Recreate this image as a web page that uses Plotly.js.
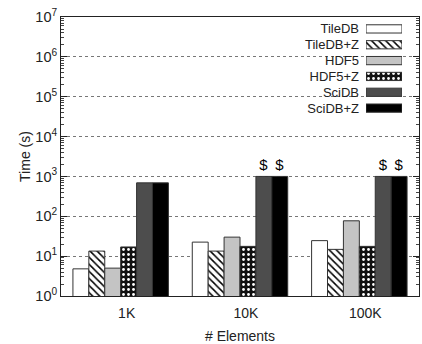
<!DOCTYPE html>
<html><head><meta charset="utf-8">
<script src="https://cdn.plot.ly/plotly-3.0.1.min.js"></script>
<style>html,body{margin:0;padding:0;background:#fff;}#c{width:422px;height:344px;}</style>
</head><body><div id="c"></div>
<script>
var categories = ['1K', '10K', '100K'];
var seriesNames = ['TileDB', 'TileDB+Z', 'HDF5', 'HDF5+Z', 'SciDB', 'SciDB+Z'];
var tiledb   = [4.8, 22.5, 24.5];
var tiledbZ  = [13.4, 13.4, 14.8];
var hdf5     = [5.0, 30, 77];
var hdf5Z    = [17, 17.6, 17.6];
var scidb    = [690, 1000, 1000];
var scidbZ   = [690, 1000, 1000];
var timeoutMarks = [null, '$', '$'];
var yTickVals = [1, 10, 100, 1e3, 1e4, 1e5, 1e6, 1e7];
var yTickText = ['10<sup>0</sup>', '10<sup>1</sup>', '10<sup>2</sup>', '10<sup>3</sup>',
                 '10<sup>4</sup>', '10<sup>5</sup>', '10<sup>6</sup>', '10<sup>7</sup>'];
var legendSwatch = [1];

var values = [tiledb, tiledbZ, hdf5, hdf5Z, scidb, scidbZ];
var styles = [
  {color:'#ffffff'},
  {color:'#ffffff', pattern:{shape:'\\', fgcolor:'#000', bgcolor:'#fff', size:5, solidity:0.3, fillmode:'replace'}},
  {color:'#c4c4c4'},
  {color:'#000000', pattern:{shape:'.', fgcolor:'#fff', bgcolor:'#111', size:5, solidity:0.25, fillmode:'replace'}},
  {color:'#4d4d4d'},
  {color:'#000000'}
];
var FONT = 'Liberation Sans, Arial, sans-serif';
var traces = [];
seriesNames.forEach(function(n, i){
  var m = Object.assign({line:{color:'#333', width:1}}, styles[i]);
  var t = {type:'bar', name:n, x:categories, y:values[i], marker:m, showlegend:false, hoverinfo:'x+y+name'};
  if (i >= 4) {
    t.text = timeoutMarks; t.textposition = 'outside'; t.cliponaxis = false;
    t.textfont = {family:FONT, size:15, color:'#000'};
  }
  traces.push(t);
});
// legend swatches drawn as a small horizontal-bar subplot
seriesNames.forEach(function(n, i){
  var m = Object.assign({line:{color:'#333', width:1}}, JSON.parse(JSON.stringify(styles[i])));
  traces.push({type:'bar', orientation:'h', name:n, y:[n], x:legendSwatch, width:[0.52], marker:m,
    xaxis:'x2', yaxis:'y2', showlegend:false, hoverinfo:'skip'});
});

var layout = {
  width:422, height:344,
  margin:{l:61, r:3, t:17, b:48},
  paper_bgcolor:'#fff', plot_bgcolor:'#fff',
  font:{family:FONT, size:14, color:'#222'},
  barmode:'group', bargap:0.2, bargroupgap:0,
  showlegend:false,
  xaxis:{type:'category', range:[-0.5, 2.5], showline:true, mirror:true, linecolor:'#222', linewidth:1,
    ticks:'', showgrid:false, ticklabelshift:6, ticklabelstandoff:4,
    title:{text:'# Elements', font:{size:14}, standoff:12}, fixedrange:true},
  yaxis:{type:'log', range:[0, 7], tickmode:'array', tickvals:yTickVals, ticktext:yTickText,
    showline:true, mirror:'allticks', linecolor:'#222', linewidth:1,
    ticks:'inside', ticklen:6, tickcolor:'#222', tickfont:{size:14.5},
    minor:{ticks:'inside', ticklen:3, tickcolor:'#444', dtick:'D1', showgrid:false},
    showgrid:true, gridcolor:'#777', griddash:'dot', gridwidth:1,
    zeroline:false, title:{text:'Time (s)', font:{size:14}, standoff:1}, fixedrange:true},
  xaxis2:{domain:[0.852, 0.9525], anchor:'y2', range:[0, 1], visible:false, fixedrange:true},
  yaxis2:{domain:[0.645, 0.9857], anchor:'x2', type:'category', autorange:'reversed',
    tickmode:'array', tickvals:seriesNames, ticktext:seriesNames,
    showgrid:false, showline:false, zeroline:false, ticks:'', ticklabelstandoff:6,
    tickfont:{size:13, color:'#222'}, fixedrange:true},
  shapes:[{type:'rect', xref:'paper', yref:'paper', x0:0.648, x1:0.958, y0:0.634, y1:0.997,
    fillcolor:'#fff', line:{width:0}, layer:'between'}]
};
Plotly.newPlot('c', traces, layout, {displayModeBar:false, staticPlot:true});
</script></body></html>
